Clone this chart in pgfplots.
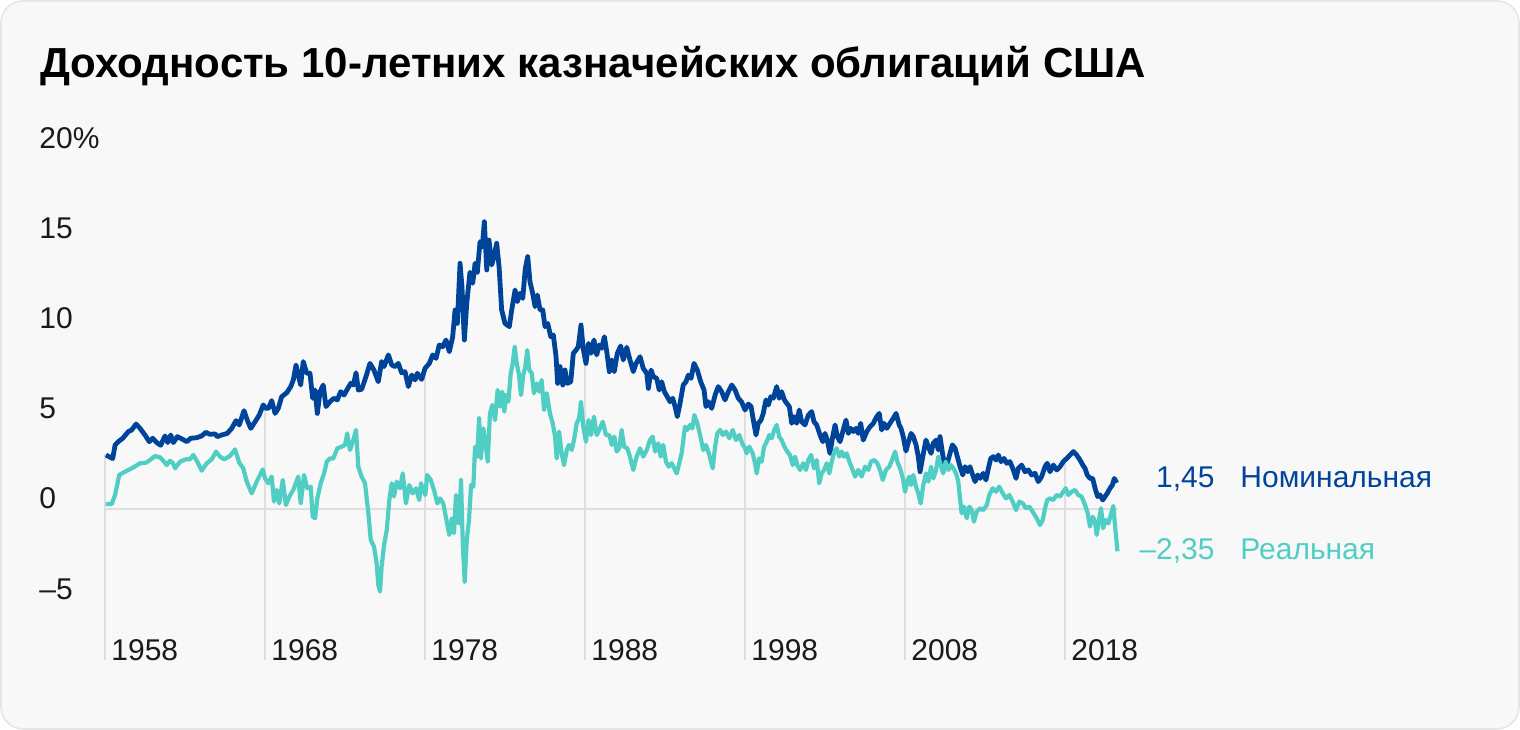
\documentclass[border=0pt]{standalone}
\usepackage{pgfplots}
\pgfplotsset{compat=1.18}
\usepackage{pgfplotstable}
\usepackage{fontspec}
\setmainfont{Liberation Sans}

\definecolor{nomblue}{HTML}{00449A}
\definecolor{realteal}{HTML}{50CEC4}
\definecolor{cardbg}{HTML}{F8F8F8}
\definecolor{cardline}{HTML}{E6E6E6}
\definecolor{gridgray}{HTML}{DEDEDE}
\definecolor{txt}{HTML}{1A1A1A}

% nominal 10-year yield, %
\pgfplotstableread{
year val
1958.06 3.00
1958.48 2.80
1958.63 3.55
1958.83 3.74
1959.11 3.93
1959.46 4.30
1959.67 4.39
1959.94 4.72
1960.19 4.48
1960.50 4.11
1960.77 3.74
1960.98 3.93
1961.23 3.69
1961.48 3.54
1961.75 4.06
1961.92 3.69
1962.11 4.11
1962.27 3.69
1962.52 4.02
1962.86 3.87
1963.11 3.74
1963.36 3.93
1963.73 3.96
1964.04 4.06
1964.31 4.26
1964.56 4.15
1964.88 4.17
1965.02 4.02
1965.29 4.11
1965.64 4.20
1965.92 4.48
1966.19 4.91
1966.39 4.67
1966.69 5.46
1966.89 4.94
1967.11 4.48
1967.38 4.85
1967.64 5.22
1967.89 5.78
1968.04 5.60
1968.21 5.59
1968.42 6.02
1968.63 5.31
1968.83 5.59
1969.04 6.24
1969.36 6.46
1969.61 6.80
1969.77 7.17
1969.94 8.00
1970.08 7.44
1970.23 6.89
1970.39 8.19
1970.61 7.54
1970.81 7.54
1970.98 6.15
1971.13 6.61
1971.27 5.31
1971.44 6.52
1971.64 6.89
1971.81 5.69
1972.06 5.96
1972.31 6.15
1972.52 6.06
1972.73 6.52
1972.94 6.33
1973.14 6.65
1973.36 6.98
1973.52 6.89
1973.69 7.57
1973.83 6.61
1974.04 6.65
1974.31 7.35
1974.56 8.09
1974.81 7.72
1975.08 7.07
1975.29 8.19
1975.44 7.91
1975.71 8.56
1975.92 8.00
1976.13 7.91
1976.33 8.09
1976.54 7.57
1976.75 7.63
1976.96 6.80
1977.17 7.44
1977.38 7.17
1977.52 7.54
1977.79 7.20
1978.00 7.81
1978.27 8.09
1978.48 8.56
1978.69 8.37
1978.89 9.11
1979.11 9.02
1979.31 9.39
1979.52 8.74
1979.73 9.57
1979.88 11.06
1980.02 10.31
1980.19 13.65
1980.31 12.35
1980.46 9.39
1980.61 11.43
1980.81 13.15
1980.98 12.54
1981.13 13.65
1981.27 13.15
1981.44 14.85
1981.58 14.57
1981.71 15.96
1981.86 13.28
1982.00 14.94
1982.17 13.56
1982.31 14.02
1982.48 14.76
1982.63 13.46
1982.79 11.06
1983.00 10.31
1983.27 10.13
1983.42 11.06
1983.63 12.17
1983.77 11.52
1983.94 11.98
1984.11 11.70
1984.27 13.37
1984.42 14.02
1984.56 12.63
1984.73 11.98
1984.88 11.24
1985.02 11.89
1985.19 11.06
1985.36 11.06
1985.50 10.13
1985.67 10.31
1985.86 9.57
1986.02 9.67
1986.19 8.46
1986.29 6.98
1986.44 7.91
1986.61 6.89
1986.75 7.72
1986.89 6.98
1987.11 7.07
1987.27 8.65
1987.44 8.83
1987.58 9.02
1987.75 10.22
1987.89 8.90
1988.06 8.09
1988.22 9.20
1988.38 8.65
1988.56 9.39
1988.73 8.56
1988.89 9.11
1989.04 8.93
1989.21 9.57
1989.36 8.74
1989.52 7.63
1989.67 8.28
1989.83 7.63
1990.02 8.65
1990.23 9.06
1990.39 8.28
1990.61 8.98
1990.81 8.28
1991.02 7.63
1991.19 8.09
1991.44 8.46
1991.64 7.81
1991.86 7.54
1991.96 6.70
1992.13 7.72
1992.27 7.35
1992.48 7.26
1992.64 6.61
1992.79 7.07
1992.96 6.52
1993.14 6.24
1993.31 5.96
1993.48 6.15
1993.63 5.69
1993.77 5.13
1993.94 5.87
1994.14 6.89
1994.31 7.07
1994.46 7.44
1994.63 7.26
1994.81 8.09
1995.02 7.72
1995.23 7.07
1995.44 6.61
1995.56 5.69
1995.71 5.96
1995.92 5.59
1996.13 6.33
1996.33 6.80
1996.54 6.52
1996.75 6.06
1996.96 6.52
1997.17 6.89
1997.38 6.61
1997.58 6.15
1997.79 5.95
1998.00 5.50
1998.21 5.83
1998.38 5.69
1998.52 4.94
1998.69 4.11
1998.83 4.76
1999.00 4.94
1999.14 5.31
1999.31 6.06
1999.46 5.78
1999.61 6.24
1999.77 6.15
1999.98 6.80
2000.14 6.15
2000.29 6.52
2000.46 6.06
2000.61 5.87
2000.77 5.69
2000.92 4.76
2001.08 5.13
2001.23 4.76
2001.39 5.50
2001.54 4.85
2001.75 4.67
2001.96 5.22
2002.17 5.41
2002.31 4.85
2002.48 4.67
2002.69 4.11
2002.86 3.74
2003.00 4.20
2003.14 3.83
2003.31 3.09
2003.48 4.02
2003.63 4.67
2003.77 4.02
2003.94 3.74
2004.14 4.39
2004.31 4.94
2004.46 4.20
2004.61 4.48
2004.77 4.30
2004.94 4.48
2005.08 4.20
2005.23 4.76
2005.39 3.83
2005.61 4.30
2005.81 4.57
2006.02 4.76
2006.23 5.13
2006.39 5.31
2006.54 4.39
2006.69 4.76
2006.86 4.48
2007.06 4.76
2007.27 5.04
2007.44 5.31
2007.64 4.67
2007.75 4.48
2007.89 4.02
2008.06 3.22
2008.22 3.74
2008.38 4.20
2008.52 4.02
2008.69 3.56
2008.83 2.91
2008.94 2.07
2009.11 2.91
2009.31 3.83
2009.46 3.46
2009.63 3.09
2009.77 3.65
2009.94 3.83
2010.08 3.28
2010.19 4.02
2010.36 3.00
2010.50 2.35
2010.67 2.63
2010.81 3.09
2010.96 3.56
2011.13 3.37
2011.27 2.91
2011.44 2.35
2011.61 1.89
2011.75 2.35
2011.92 2.07
2012.06 2.35
2012.23 1.89
2012.38 1.52
2012.54 1.89
2012.69 1.70
2012.89 1.98
2013.06 1.61
2013.21 2.26
2013.36 2.81
2013.52 2.91
2013.69 2.72
2013.83 3.00
2014.00 2.63
2014.19 2.81
2014.36 2.54
2014.56 2.63
2014.77 2.17
2014.94 1.70
2015.08 2.26
2015.29 2.44
2015.50 2.07
2015.71 2.17
2015.92 1.89
2016.13 1.98
2016.33 1.52
2016.54 1.80
2016.75 2.35
2016.89 2.54
2017.06 2.07
2017.27 2.44
2017.48 2.17
2017.69 2.35
2017.89 2.63
2018.11 2.81
2018.31 3.00
2018.52 3.19
2018.73 3.00
2018.94 2.72
2019.11 2.44
2019.25 2.26
2019.39 1.89
2019.56 1.70
2019.73 1.70
2019.88 1.15
2020.04 0.69
2020.19 0.78
2020.36 0.50
2020.50 0.69
2020.64 0.87
2020.81 1.15
2020.96 1.33
2021.08 1.70
2021.23 1.45
}\nominal

% real 10-year yield (nominal minus inflation), %
\pgfplotstableread{
year val
1958.06 0.28
1958.42 0.28
1958.63 0.78
1958.89 1.89
1959.25 2.07
1959.77 2.31
1960.19 2.54
1960.56 2.57
1960.81 2.72
1961.13 2.94
1961.44 2.87
1961.64 2.68
1961.86 2.44
1962.06 2.68
1962.23 2.57
1962.38 2.26
1962.69 2.63
1963.06 2.76
1963.31 2.76
1963.52 3.00
1963.77 2.63
1964.04 2.13
1964.36 2.54
1964.67 2.76
1964.94 3.19
1965.19 2.91
1965.44 2.76
1965.81 2.94
1966.13 3.31
1966.39 2.57
1966.64 2.26
1966.86 1.52
1967.17 0.87
1967.48 1.52
1967.86 2.20
1968.00 1.70
1968.21 1.43
1968.42 1.80
1968.56 0.41
1968.73 1.06
1968.89 0.31
1969.11 1.61
1969.31 0.22
1969.52 0.69
1969.77 1.06
1970.08 1.80
1970.23 0.31
1970.44 1.89
1970.64 1.15
1970.86 1.24
1970.98 -0.43
1971.13 -0.52
1971.27 0.59
1971.48 1.43
1971.69 1.98
1971.86 2.63
1972.06 2.81
1972.27 2.81
1972.52 3.37
1972.79 3.46
1973.00 3.56
1973.14 4.20
1973.31 3.28
1973.52 3.83
1973.69 4.39
1973.83 2.35
1974.04 1.80
1974.25 1.43
1974.46 -0.24
1974.61 -1.72
1974.81 -2.09
1974.98 -3.02
1975.08 -4.22
1975.19 -4.59
1975.29 -3.20
1975.44 -2.00
1975.61 -1.17
1975.77 0.50
1975.92 1.43
1976.06 0.69
1976.23 1.52
1976.44 1.15
1976.61 1.98
1976.81 0.31
1977.02 1.33
1977.23 0.87
1977.44 1.15
1977.64 0.50
1977.75 1.43
1977.89 1.06
1978.02 0.78
1978.14 1.89
1978.36 1.61
1978.56 1.06
1978.77 0.31
1978.94 0.59
1979.14 0.31
1979.36 -0.70
1979.52 -1.44
1979.67 -0.52
1979.81 -1.35
1979.94 0.78
1980.04 -0.70
1980.14 -0.80
1980.25 1.61
1980.36 -1.91
1980.48 -4.04
1980.61 -1.72
1980.75 -0.61
1980.88 1.33
1981.02 1.24
1981.13 3.46
1981.27 2.91
1981.38 5.04
1981.50 2.81
1981.64 4.48
1981.79 3.65
1981.92 2.63
1982.06 5.31
1982.21 5.78
1982.38 4.94
1982.54 6.61
1982.69 5.69
1982.83 6.52
1982.96 5.41
1983.06 6.33
1983.21 5.96
1983.36 7.54
1983.48 8.09
1983.61 9.02
1983.73 8.09
1983.86 7.54
1984.00 6.33
1984.14 7.44
1984.27 7.91
1984.39 8.83
1984.52 7.72
1984.67 7.54
1984.81 6.43
1984.98 6.98
1985.14 6.52
1985.29 7.17
1985.44 5.50
1985.61 6.43
1985.81 5.31
1985.98 4.76
1986.13 4.02
1986.23 2.81
1986.38 4.30
1986.54 3.09
1986.69 2.44
1986.86 3.28
1987.00 3.56
1987.17 3.28
1987.31 3.83
1987.48 4.76
1987.63 5.04
1987.75 5.96
1987.89 4.57
1988.06 3.74
1988.22 4.94
1988.38 4.11
1988.56 5.13
1988.73 4.11
1988.89 4.39
1989.11 4.85
1989.31 4.11
1989.52 4.11
1989.67 3.56
1989.83 4.02
1989.98 3.19
1990.14 3.37
1990.29 4.39
1990.44 3.46
1990.64 3.37
1990.81 2.91
1991.02 2.17
1991.23 2.91
1991.44 3.37
1991.64 2.91
1991.86 3.28
1992.06 3.83
1992.23 4.02
1992.38 3.19
1992.58 3.65
1992.73 2.91
1992.89 3.56
1993.06 2.63
1993.23 2.35
1993.42 2.54
1993.58 2.26
1993.73 1.98
1993.89 2.54
1994.04 3.09
1994.25 4.57
1994.39 4.39
1994.56 4.67
1994.71 4.48
1994.83 5.22
1995.02 4.76
1995.19 4.11
1995.39 3.28
1995.56 3.56
1995.77 3.00
1995.98 2.26
1996.13 3.46
1996.27 4.20
1996.44 4.39
1996.61 4.11
1996.81 4.30
1997.02 3.93
1997.23 4.39
1997.44 3.83
1997.64 4.11
1997.86 3.56
1998.00 3.40
1998.10 3.09
1998.27 3.46
1998.48 3.09
1998.63 2.54
1998.73 1.98
1998.89 2.81
1999.04 2.63
1999.19 3.46
1999.36 3.74
1999.52 4.11
1999.67 3.93
1999.83 4.39
1999.98 4.67
2000.14 4.02
2000.29 3.83
2000.46 3.46
2000.64 3.19
2000.81 3.00
2000.98 2.44
2001.13 2.91
2001.27 2.44
2001.44 2.17
2001.64 2.54
2001.81 2.17
2001.96 2.72
2002.13 3.00
2002.31 2.26
2002.48 2.72
2002.64 1.43
2002.79 1.98
2002.94 2.17
2003.11 2.54
2003.27 1.98
2003.42 2.63
2003.58 3.19
2003.73 3.37
2003.89 2.91
2004.04 3.19
2004.19 2.91
2004.36 3.09
2004.52 2.63
2004.73 2.17
2004.88 1.80
2005.08 2.17
2005.29 1.80
2005.50 2.35
2005.71 2.17
2005.87 2.63
2006.08 2.72
2006.27 2.54
2006.44 2.17
2006.61 1.61
2006.81 2.17
2007.02 2.35
2007.23 2.81
2007.38 3.19
2007.52 2.63
2007.73 2.17
2007.89 1.60
2008.00 0.96
2008.16 1.55
2008.27 1.80
2008.38 1.33
2008.52 1.89
2008.69 1.24
2008.83 0.87
2008.98 0.31
2009.14 1.33
2009.31 1.98
2009.46 1.52
2009.63 2.35
2009.77 1.70
2009.94 2.17
2010.08 2.91
2010.23 2.44
2010.39 1.98
2010.54 2.63
2010.71 2.17
2010.86 2.44
2011.02 2.26
2011.19 1.98
2011.33 1.52
2011.44 0.59
2011.54 -0.24
2011.69 0.13
2011.86 -0.52
2012.02 0.13
2012.17 -0.06
2012.31 -0.70
2012.48 -0.15
2012.69 0.04
2012.89 -0.06
2013.11 0.22
2013.27 0.78
2013.48 1.15
2013.69 0.96
2013.89 1.24
2014.11 0.87
2014.31 0.59
2014.52 0.78
2014.73 0.41
2014.94 -0.06
2015.14 0.41
2015.36 0.31
2015.56 0.04
2015.77 0.13
2015.98 -0.15
2016.23 -0.52
2016.44 -0.89
2016.61 -0.61
2016.75 0.04
2016.89 0.50
2017.06 0.59
2017.27 0.50
2017.48 0.78
2017.69 0.69
2017.89 0.96
2018.04 1.15
2018.21 0.78
2018.42 0.96
2018.63 1.06
2018.83 0.78
2019.04 0.69
2019.25 0.22
2019.42 -0.24
2019.56 -0.98
2019.73 -0.43
2019.88 -0.70
2019.98 -1.44
2020.13 -0.61
2020.25 0.04
2020.39 -1.07
2020.54 -0.61
2020.71 -0.80
2020.86 -0.33
2021.02 0.17
2021.13 -0.98
2021.28 -2.35
}\real

\begin{document}
\begin{tikzpicture}
\fill[white] (0,0) rectangle (760bp,365bp);
\filldraw[fill=cardbg, draw=cardline, line width=0.8bp, rounded corners=11bp]
  (0.5bp,0.5bp) rectangle (759.5bp,364.5bp);

\begin{axis}[
  at={(0,0)}, anchor=south west, scale only axis,
  width=760bp, height=365bp,
  xmin=1951.4375, xmax=2046.4375,
  ymin=-12.2778, ymax=28.2778,
  axis line style={draw=none}, tick style={draw=none},
  clip=false,
  xtick={1958,1968,1978,1988,1998,2008,2018},
  xticklabels={1958,1968,1978,1988,1998,2008,2018},
  ytick={-5,0,5,10,15,20},
  yticklabels={–5,0,5,10,15,20\%},
  ticklabel style={font=\fontsize{15bp}{18bp}\selectfont, text=txt, inner sep=0pt},
  xticklabel style={anchor=base west, xshift=3bp, yshift=35bp},
  yticklabel style={anchor=base west, xshift=19.5bp},
]
% drop lines and zero line
\addplot[gridgray, line width=1bp] coordinates {(1958,-8.39) (1958,3.06)};
\addplot[gridgray, line width=1bp] coordinates {(1968,-8.39) (1968,5.6)};
\addplot[gridgray, line width=1bp] coordinates {(1978,-8.39) (1978,7.8)};
\addplot[gridgray, line width=1bp] coordinates {(1988,-8.39) (1988,8.1)};
\addplot[gridgray, line width=1bp] coordinates {(1998,-8.39) (1998,5.5)};
\addplot[gridgray, line width=1bp] coordinates {(2008,-8.39) (2008,3.3)};
\addplot[gridgray, line width=1bp] coordinates {(2018,-8.39) (2018,2.75)};
\addplot[gridgray, line width=1bp] coordinates {(1958,0) (2021.3,0)};

\addplot[nomblue, line width=2.4bp, line join=round] table[x=year, y=val] {\nominal};
\addplot[realteal, line width=2.1bp, line join=round] table[x=year, y=val] {\real};

\node[anchor=base east, inner sep=0, text=nomblue, font=\fontsize{15bp}{18bp}\selectfont]
  at (axis cs:2027.375,1.17) {1,45};
\node[anchor=base west, inner sep=0, text=nomblue, font=\fontsize{15bp}{18bp}\selectfont]
  at (axis cs:2028.94,1.17) {Номинальная};
\node[anchor=base east, inner sep=0, text=realteal, font=\fontsize{15bp}{18bp}\selectfont]
  at (axis cs:2027.375,-2.83) {–2,35};
\node[anchor=base west, inner sep=0, text=realteal, font=\fontsize{15bp}{18bp}\selectfont]
  at (axis cs:2028.94,-2.83) {Реальная};
\end{axis}

\node[anchor=base west, inner sep=0, text=black,
  font=\fontsize{21bp}{25bp}\selectfont\bfseries]
  at (20bp,326bp) {Доходность 10-летних казначейских облигаций США};
\end{tikzpicture}
\end{document}
